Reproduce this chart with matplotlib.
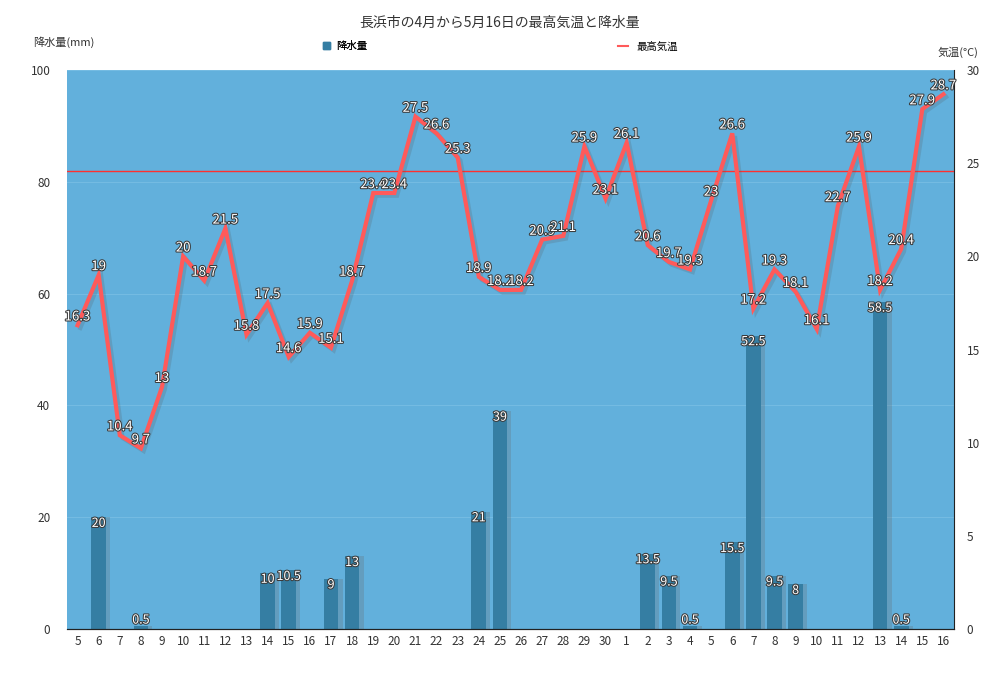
import matplotlib
matplotlib.use("Agg")
import matplotlib.pyplot as plt
import matplotlib.patheffects as pe
from matplotlib.lines import Line2D
from matplotlib.patches import Patch
import numpy as np

plt.rcParams['font.family'] = ['Noto Sans CJK JP', 'DejaVu Sans']

# 4/5 - 5/16
days = [str(d) for d in range(5, 31)] + [str(d) for d in range(1, 17)]
temp = [16.3, 19, 10.4, 9.7, 13, 20, 18.7, 21.5, 15.8, 17.5, 14.6, 15.9, 15.1, 18.7,
        23.4, 23.4, 27.5, 26.6, 25.3, 18.9, 18.2, 18.2, 20.9, 21.1, 25.9, 23.1,
        26.1, 20.6, 19.7, 19.3, 23, 26.6, 17.2, 19.3, 18.1, 16.1, 22.7, 25.9, 18.2,
        20.4, 27.9, 28.7]
rain = [0, 20, 0, 0.5, 0, 0, 0, 0, 0, 10, 10.5, 0, 9, 13,
        0, 0, 0, 0, 0, 21, 39, 0, 0, 0, 0, 0,
        0, 13.5, 9.5, 0.5, 0, 15.5, 52.5, 9.5, 8, 0, 0, 0, 58.5,
        0.5, 0, 0]
ref_line = 24.6

bg = '#62b0dc'
bar_color = '#357ea3'
line_color = '#ff5a5a'

fig = plt.figure(figsize=(10, 6.83), dpi=100)
ax = fig.add_axes([0.067, 0.079, 0.887, 0.8185])
ax2 = ax.twinx()

x = np.arange(len(days))
ax.set_facecolor(bg)
ax.bar(x, rain, width=0.7, color=bar_color, zorder=2,
       path_effects=[pe.SimplePatchShadow(offset=(3, 0), shadow_rgbFace='#666666', alpha=0.25), pe.Normal()])
ax.set_ylim(0, 100)
ax.set_xlim(-0.5, len(days) - 0.5)
ax.set_yticks([0, 20, 40, 60, 80, 100])
ax.grid(axis='y', color='#74bbe2', linewidth=0.8, zorder=1)
ax.set_axisbelow(True)
ax.set_xticks(x)
ax.set_xticklabels(days)

txt_fx = [pe.withStroke(linewidth=1.5, foreground='#3a3a3a')]
for i, v in enumerate(rain):
    if v > 0:
        lab = ('%g' % v)
        ax.text(i, max(v - 1.1, 1.6), lab, ha='center', va='center', fontsize=9,
                color='white', zorder=5, path_effects=txt_fx)

ax2.axhline(ref_line, color='#ff3030', linewidth=1.0, zorder=1)
ax2.plot(x, temp, color=line_color, linewidth=3, zorder=3, solid_joinstyle='miter',
         path_effects=[pe.SimpleLineShadow(offset=(2, -2), shadow_color='#555555', alpha=0.2), pe.Normal()])
ax2.set_ylim(0, 30)
ax2.set_yticks([0, 5, 10, 15, 20, 25, 30])
for i, v in enumerate(temp):
    ax2.annotate('%g' % v, (i, v), xytext=(0, 6), textcoords='offset points',
                 ha='center', va='center', fontsize=9.5, color='white', zorder=6,
                 path_effects=txt_fx)

for a in (ax, ax2):
    a.spines['top'].set_visible(False)
    a.spines['left'].set_visible(False)
    a.spines['bottom'].set_color('#222222')
    a.spines['right'].set_color('#222222')
    a.tick_params(length=0, labelsize=8.5, colors='#333333')
ax.spines['right'].set_visible(False)
ax.tick_params(axis='y', pad=12)
ax.tick_params(axis='x', pad=4)
ax2.tick_params(axis='y', pad=9)

fig.text(0.5, 0.967, '長浜市の4月から5月16日の最高気温と降水量', ha='center', va='center',
         fontsize=10, color='#333333')
fig.text(0.033, 0.938, '降水量(mm)', ha='left', va='center', fontsize=8, color='#333333')
fig.text(0.978, 0.924, '気温(°C)', ha='right', va='center', fontsize=8, color='#333333')

l1 = fig.legend(handles=[Patch(color=bar_color)], labels=['降水量'], loc='center',
                bbox_to_anchor=(0.345, 0.932), frameon=False, fontsize=7.5,
                handlelength=0.7, handleheight=0.7, handletextpad=0.6)
l2 = fig.legend(handles=[Line2D([], [], color=line_color, linewidth=1.5)], labels=['最高気温'],
                loc='center', bbox_to_anchor=(0.648, 0.932), frameon=False, fontsize=7.5,
                handlelength=0.9, handletextpad=0.8)
fig.add_artist(l1)

fig.savefig('out.png', dpi=100, facecolor='white')
